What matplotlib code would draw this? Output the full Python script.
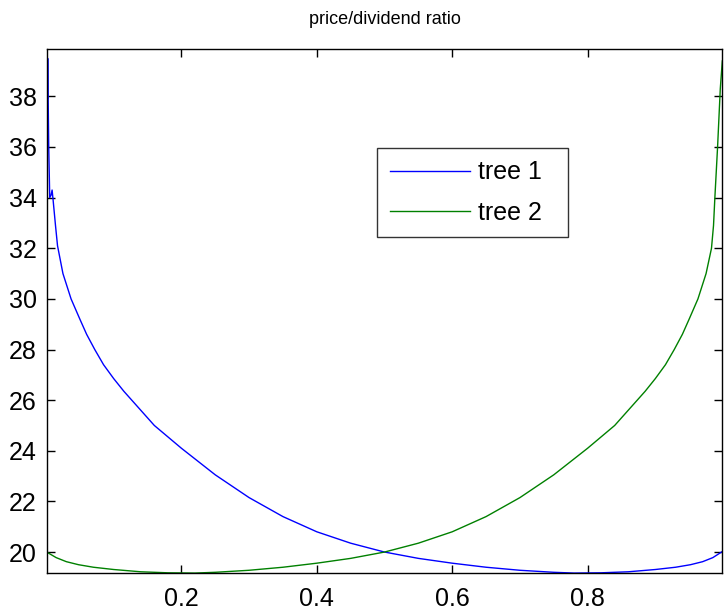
import matplotlib
matplotlib.use("Agg")
import matplotlib.pyplot as plt

plt.rcParams["font.family"] = ["Liberation Sans", "DejaVu Sans"]

# values
x_tree1 = [0.001, 0.0015, 0.002, 0.0025, 0.004, 0.0055, 0.0075, 0.009, 0.0105,
           0.014, 0.017, 0.025, 0.037, 0.05, 0.06, 0.072, 0.085, 0.1, 0.115, 0.13,
           0.16, 0.2, 0.25, 0.3, 0.35, 0.4, 0.45, 0.5, 0.55, 0.6, 0.65, 0.7,
           0.75, 0.78, 0.82, 0.86, 0.9, 0.93, 0.952, 0.97, 0.985, 0.999]
pd_tree1 = [39.8, 38.0, 37.9, 39.5, 36.0, 34.0, 34.1, 34.3, 33.9,
            32.9, 32.1, 31.0, 30.0, 29.2, 28.6, 28.0, 27.4, 26.85, 26.35, 25.9,
            25.0, 24.1, 23.05, 22.15, 21.4, 20.8, 20.35, 20.0, 19.75, 19.56, 19.4, 19.28,
            19.2, 19.17, 19.18, 19.22, 19.31, 19.4, 19.5, 19.62, 19.78, 20.02]

x_tree2 = [0.001, 0.015, 0.03, 0.048, 0.07, 0.1, 0.14, 0.18, 0.22, 0.25, 0.3,
           0.35, 0.4, 0.45, 0.5, 0.55, 0.6, 0.65, 0.7, 0.75, 0.8, 0.84, 0.87,
           0.885, 0.9, 0.915, 0.928, 0.94, 0.95, 0.963, 0.975, 0.983, 0.986,
           0.988, 0.992, 0.996, 0.999]
pd_tree2 = [20.0, 19.78, 19.62, 19.5, 19.4, 19.31, 19.22, 19.18, 19.17, 19.2, 19.28,
            19.4, 19.56, 19.75, 20.0, 20.35, 20.8, 21.4, 22.15, 23.05, 24.1, 25.0, 25.9,
            26.35, 26.85, 27.4, 28.0, 28.6, 29.2, 30.0, 31.0, 32.0, 32.9,
            34.0, 36.0, 38.3, 39.4]

labels = ["tree 1", "tree 2"]
title = "price/dividend ratio"
xticks = [0.2, 0.4, 0.6, 0.8]
yticks = list(range(20, 40, 2))

fig = plt.figure(figsize=(7.25, 6.16), dpi=100)
ax = fig.add_axes([0.0644, 0.0693, 0.9319, 0.8507])

ax.plot(x_tree1, pd_tree1, color=(0, 0, 1), lw=1.0, label=labels[0])
ax.plot(x_tree2, pd_tree2, color=(0, 0.5, 0), lw=1.0, label=labels[1])

ax.set_xlim(0.001, 0.999)
ax.set_ylim(19.16, 39.86)
ax.set_xticks(xticks)
ax.set_xticklabels(["%g" % t for t in xticks])
ax.set_yticks(yticks)
ax.tick_params(direction="in", length=6, width=1, labelsize=18,
               top=True, right=True)
ax.tick_params(axis="x", pad=10)
ax.tick_params(axis="y", pad=7)
for s in ax.spines.values():
    s.set_linewidth(1.0)

ax.set_title(title, fontsize=13, pad=18)

# legend stretched to the box width seen in the reference
leg = ax.legend(loc="upper left", bbox_to_anchor=(0.489, 0.646, 0.283, 0.166),
                mode="expand", fontsize=18, frameon=True, fancybox=False,
                edgecolor="black", handlelength=3.2, handletextpad=0.35,
                borderpad=0.5, labelspacing=0.66, borderaxespad=0)
leg.get_frame().set_linewidth(1.0)

fig.savefig("out.png", dpi=100)
